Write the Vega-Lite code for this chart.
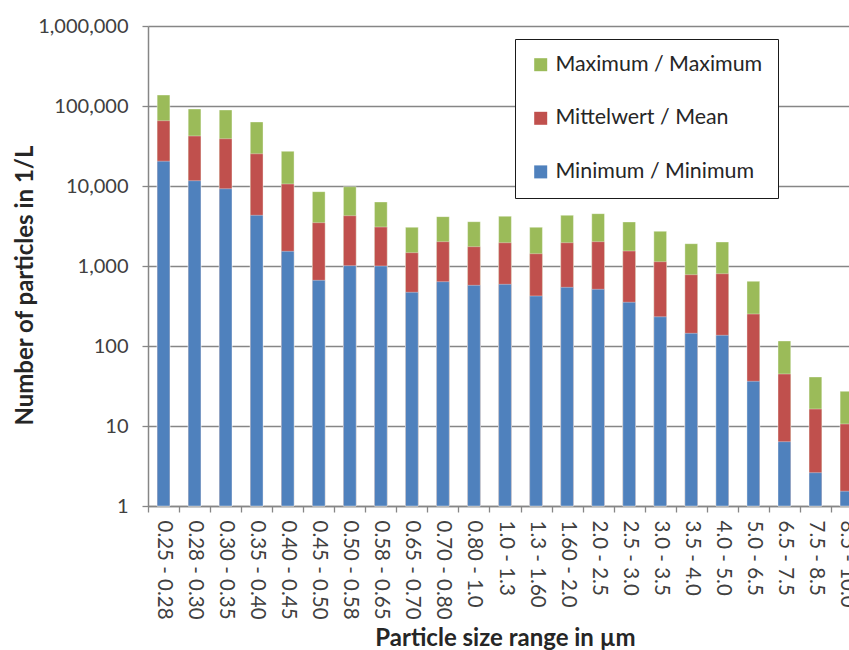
{
  "$schema": "https://vega.github.io/schema/vega-lite/v6.json",
  "autosize": {"type": "none"},
  "width": 701,
  "height": 480,
  "padding": {"left": 148, "top": 26, "right": 0, "bottom": 144},
  "background": "white",
  "config": {
    "font": "Lato",
    "view": {"stroke": null},
    "axis": {
      "domainColor": "#868686",
      "domainWidth": 1.5,
      "tickColor": "#868686",
      "tickWidth": 1.3,
      "tickSize": 6,
      "gridColor": "#868686",
      "gridWidth": 1.3,
      "labelColor": "#404040",
      "labelFontSize": 20,
      "titleColor": "#262626",
      "titleFontSize": 24,
      "titleFontWeight": "bold"
    }
  },
  "data": {
    "values": [
      {"size": "0.25 - 0.28", "stat": "Maximum / Maximum", "count": 137000},
      {"size": "0.28 - 0.30", "stat": "Maximum / Maximum", "count": 91700},
      {"size": "0.30 - 0.35", "stat": "Maximum / Maximum", "count": 89100},
      {"size": "0.35 - 0.40", "stat": "Maximum / Maximum", "count": 63100},
      {"size": "0.40 - 0.45", "stat": "Maximum / Maximum", "count": 27100},
      {"size": "0.45 - 0.50", "stat": "Maximum / Maximum", "count": 8490},
      {"size": "0.50 - 0.58", "stat": "Maximum / Maximum", "count": 9800},
      {"size": "0.58 - 0.65", "stat": "Maximum / Maximum", "count": 6310},
      {"size": "0.65 - 0.70", "stat": "Maximum / Maximum", "count": 3045},
      {"size": "0.70 - 0.80", "stat": "Maximum / Maximum", "count": 4140},
      {"size": "0.80 - 1.0", "stat": "Maximum / Maximum", "count": 3580},
      {"size": "1.0 - 1.3", "stat": "Maximum / Maximum", "count": 4180},
      {"size": "1.3 - 1.60", "stat": "Maximum / Maximum", "count": 3045},
      {"size": "1.60 - 2.0", "stat": "Maximum / Maximum", "count": 4300},
      {"size": "2.0 - 2.5", "stat": "Maximum / Maximum", "count": 4510},
      {"size": "2.5 - 3.0", "stat": "Maximum / Maximum", "count": 3550},
      {"size": "3.0 - 3.5", "stat": "Maximum / Maximum", "count": 2713},
      {"size": "3.5 - 4.0", "stat": "Maximum / Maximum", "count": 1900},
      {"size": "4.0 - 5.0", "stat": "Maximum / Maximum", "count": 1995},
      {"size": "5.0 - 6.5", "stat": "Maximum / Maximum", "count": 643},
      {"size": "6.5 - 7.5", "stat": "Maximum / Maximum", "count": 115.5},
      {"size": "7.5 - 8.5", "stat": "Maximum / Maximum", "count": 41},
      {"size": "8.5 - 10.0", "stat": "Maximum / Maximum", "count": 27.1},
      {"size": "0.25 - 0.28", "stat": "Mittelwert / Mean", "count": 65500},
      {"size": "0.28 - 0.30", "stat": "Mittelwert / Mean", "count": 42200},
      {"size": "0.30 - 0.35", "stat": "Mittelwert / Mean", "count": 39000},
      {"size": "0.35 - 0.40", "stat": "Mittelwert / Mean", "count": 25300},
      {"size": "0.40 - 0.45", "stat": "Mittelwert / Mean", "count": 10600},
      {"size": "0.45 - 0.50", "stat": "Mittelwert / Mean", "count": 3480},
      {"size": "0.50 - 0.58", "stat": "Mittelwert / Mean", "count": 4255},
      {"size": "0.58 - 0.65", "stat": "Mittelwert / Mean", "count": 3070},
      {"size": "0.65 - 0.70", "stat": "Mittelwert / Mean", "count": 1468},
      {"size": "0.70 - 0.80", "stat": "Mittelwert / Mean", "count": 2015},
      {"size": "0.80 - 1.0", "stat": "Mittelwert / Mean", "count": 1745},
      {"size": "1.0 - 1.3", "stat": "Mittelwert / Mean", "count": 1955},
      {"size": "1.3 - 1.60", "stat": "Mittelwert / Mean", "count": 1425},
      {"size": "1.60 - 2.0", "stat": "Mittelwert / Mean", "count": 1955},
      {"size": "2.0 - 2.5", "stat": "Mittelwert / Mean", "count": 2015},
      {"size": "2.5 - 3.0", "stat": "Mittelwert / Mean", "count": 1540},
      {"size": "3.0 - 3.5", "stat": "Mittelwert / Mean", "count": 1132},
      {"size": "3.5 - 4.0", "stat": "Mittelwert / Mean", "count": 779},
      {"size": "4.0 - 5.0", "stat": "Mittelwert / Mean", "count": 801},
      {"size": "5.0 - 6.5", "stat": "Mittelwert / Mean", "count": 251},
      {"size": "6.5 - 7.5", "stat": "Mittelwert / Mean", "count": 44.7},
      {"size": "7.5 - 8.5", "stat": "Mittelwert / Mean", "count": 16.3},
      {"size": "8.5 - 10.0", "stat": "Mittelwert / Mean", "count": 10.6},
      {"size": "0.25 - 0.28", "stat": "Minimum / Minimum", "count": 20400},
      {"size": "0.28 - 0.30", "stat": "Minimum / Minimum", "count": 11650},
      {"size": "0.30 - 0.35", "stat": "Minimum / Minimum", "count": 9250},
      {"size": "0.35 - 0.40", "stat": "Minimum / Minimum", "count": 4300},
      {"size": "0.40 - 0.45", "stat": "Minimum / Minimum", "count": 1525},
      {"size": "0.45 - 0.50", "stat": "Minimum / Minimum", "count": 662},
      {"size": "0.50 - 0.58", "stat": "Minimum / Minimum", "count": 1010},
      {"size": "0.58 - 0.65", "stat": "Minimum / Minimum", "count": 1000},
      {"size": "0.65 - 0.70", "stat": "Minimum / Minimum", "count": 469},
      {"size": "0.70 - 0.80", "stat": "Minimum / Minimum", "count": 637},
      {"size": "0.80 - 1.0", "stat": "Minimum / Minimum", "count": 573},
      {"size": "1.0 - 1.3", "stat": "Minimum / Minimum", "count": 590},
      {"size": "1.3 - 1.60", "stat": "Minimum / Minimum", "count": 422},
      {"size": "1.60 - 2.0", "stat": "Minimum / Minimum", "count": 541},
      {"size": "2.0 - 2.5", "stat": "Minimum / Minimum", "count": 511},
      {"size": "2.5 - 3.0", "stat": "Minimum / Minimum", "count": 352},
      {"size": "3.0 - 3.5", "stat": "Minimum / Minimum", "count": 232},
      {"size": "3.5 - 4.0", "stat": "Minimum / Minimum", "count": 144},
      {"size": "4.0 - 5.0", "stat": "Minimum / Minimum", "count": 136},
      {"size": "5.0 - 6.5", "stat": "Minimum / Minimum", "count": 36.2},
      {"size": "6.5 - 7.5", "stat": "Minimum / Minimum", "count": 6.37},
      {"size": "7.5 - 8.5", "stat": "Minimum / Minimum", "count": 2.61},
      {"size": "8.5 - 10.0", "stat": "Minimum / Minimum", "count": 1.53}
    ]
  },
  "mark": {"type": "bar", "width": {"band": 0.41}, "stroke": "white", "strokeOpacity": 0.45, "strokeWidth": 0.8},
  "encoding": {
    "x": {
      "field": "size",
      "type": "nominal",
      "sort": null,
      "scale": {"range": [0, 714], "paddingInner": 0, "paddingOuter": 0},
      "axis": {
        "title": "Particle size range in µm",
        "tickBand": "extent",
        "labelAngle": 90,
        "labelAlign": "left",
        "labelBaseline": "middle",
        "labelPadding": 8,
        "labelFontSize": 20.5,
        "grid": false,
        "titlePadding": 7
      }
    },
    "y": {
      "field": "count",
      "type": "quantitative",
      "stack": null,
      "scale": {"type": "log", "domain": [1, 1000000], "nice": false},
      "axis": {
        "title": "Number of particles in 1/L",
        "values": [1, 10, 100, 1000, 10000, 100000, 1000000],
        "format": ",.0f",
        "labelPadding": 14,
        "titleY": 259,
        "titlePadding": 0
      }
    },
    "y2": {"datum": 1},
    "color": {
      "field": "stat",
      "type": "nominal",
      "scale": {
        "domain": ["Maximum / Maximum", "Mittelwert / Mean", "Minimum / Minimum"],
        "range": ["#9BBB59", "#C0504D", "#4F81BD"]
      },
      "legend": {
        "title": null,
        "orient": "none",
        "legendX": 367,
        "legendY": 13,
        "fillColor": "white",
        "strokeColor": "#1a1a1a",
        "padding": 15,
        "symbolType": "square",
        "symbolSize": 169,
        "symbolStrokeWidth": 0,
        "labelFontSize": 21.4,
        "labelLimit": 400,
        "labelColor": "#262626",
        "labelOffset": 4,
        "rowPadding": 30.6
      }
    }
  }
}
